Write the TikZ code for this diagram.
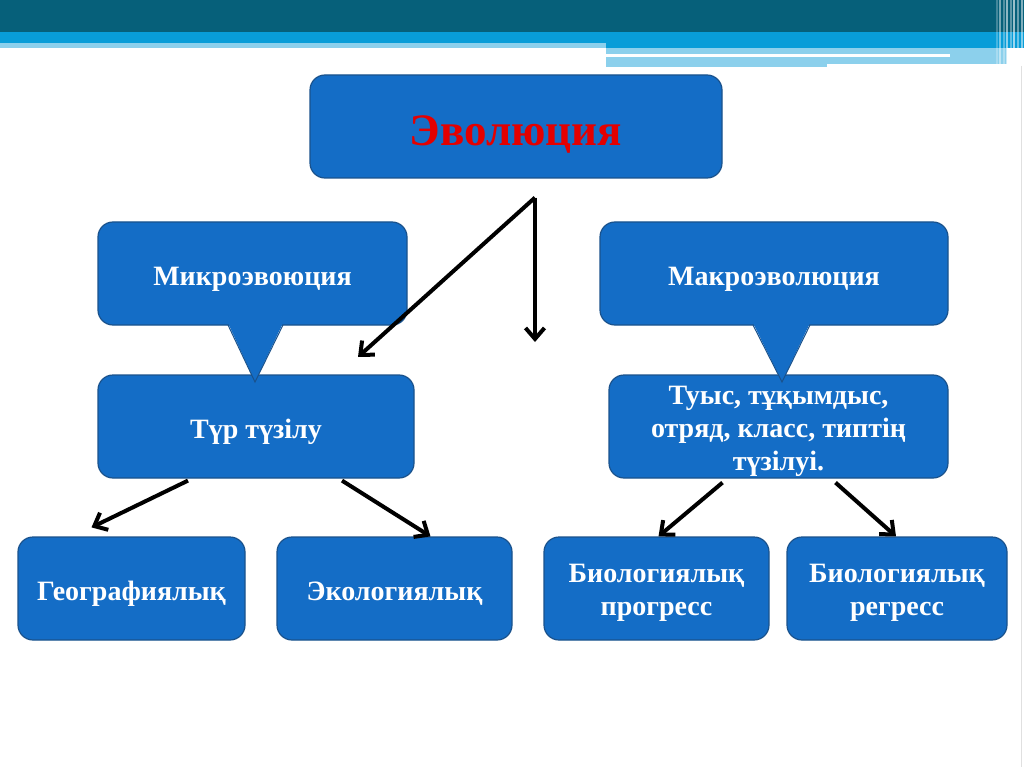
\documentclass[tikz,border=0pt]{standalone}
\usepackage{fontspec}
\setmainfont{Liberation Serif}
\usetikzlibrary{arrows.meta}
\definecolor{boxblue}{RGB}{20,109,198}
\definecolor{boxedge}{RGB}{26,82,140}
\definecolor{banddark}{RGB}{6,96,122}
\definecolor{bandmid}{RGB}{8,157,216}
\definecolor{bandlight}{RGB}{140,208,236}
\definecolor{titlered}{RGB}{228,0,0}

\begin{document}
\begin{tikzpicture}[x=1pt,y=-1pt,
    block/.style={draw=boxedge,line width=1.2pt,fill=boxblue,rounded corners=15pt,
      text=white,font=\fontsize{28}{33}\selectfont\bfseries,align=center,
      minimum height=103pt,inner sep=0pt,text height=24pt,text depth=0pt},
    arr/.style={-{Straight Barb[length=11pt,width=19pt]},line width=4pt}]
\useasboundingbox (0,0) rectangle (1024,767);

% top band
\fill[banddark] (0,0) rectangle (1024,32);
\fill[bandmid] (0,32) rectangle (1024,48);
\fill[bandlight] (0,43) rectangle (606,48);
\fill[bandlight] (606,48) rectangle (827,67);
\fill[bandlight] (827,48) rectangle (1007,64);
\fill[white] (606,54) rectangle (950,57);
\foreach \x/\o in {996/0.25,999/0.45,1003/0.3,1006/0.55,1010/0.35,1013/0.6,1017/0.4,1021/0.5}
  \fill[white,opacity=\o] (\x,0) rectangle (\x+1.5,66);
\draw[black!12,line width=1pt] (1021,66) -- (1021,767);

% boxes
\node[block,minimum width=412pt,font=\fontsize{45}{50}\selectfont\bfseries,text=titlered,
  text height=38pt] (evo) at (516,126.5) {Эволюция};
\node[block,minimum width=309pt] (mikro) at (252.5,273.5) {Микроэвоюция};
\node[block,minimum width=348pt] (makro) at (774,273.5) {Макроэволюция};
\node[block,minimum width=316pt] (tur) at (256,426.5) {Түр түзілу};
\node[block,minimum width=339pt,text height=87pt] (tuys) at (778.5,426.5)
  {Туыс, тұқымдыс,\\отряд, класс, типтің\\түзілуі.};
\node[block,minimum width=227pt] (geo) at (131.5,588.5) {Географиялық};
\node[block,minimum width=235pt] (eko) at (394.5,588.5) {Экологиялық};
\node[block,minimum width=225pt,text height=53pt] (bioprog) at (656.5,588.5) {Биологиялық\\прогресс};
\node[block,minimum width=220pt,text height=53pt] (bioreg) at (897,588.5) {Биологиялық\\регресс};

% callout tips
\fill[boxblue] (228,323) -- (283,323) -- (255,382) -- cycle;
\draw[boxedge,line width=1pt] (228,325) -- (255,382) -- (283,325);
\fill[boxblue] (753,323) -- (810,323) -- (782,382) -- cycle;
\draw[boxedge,line width=1pt] (753,325) -- (782,382) -- (810,325);

% arrows
\coordinate (fork) at ([xshift=19pt,yshift=-19pt]evo.south);
\coordinate (forkleft) at (358,357);
\coordinate (forkdown) at (535,342);
\draw[arr] (fork) -- (forkleft);
\draw[arr] (fork) -- (forkdown);
\draw[arr] ([xshift=-68pt,yshift=-2pt]tur.south) -- ([xshift=-40pt,yshift=9pt]geo.north);
\draw[arr] ([xshift=86pt,yshift=-2pt]tur.south) -- ([xshift=36pt]eko.north);
\draw[arr] ([xshift=-56pt,yshift=-4pt]tuys.south) -- ([xshift=2pt]bioprog.north);
\draw[arr] ([xshift=57pt,yshift=-4pt]tuys.south) -- ([xshift=-1pt]bioreg.north);
\end{tikzpicture}
\end{document}
